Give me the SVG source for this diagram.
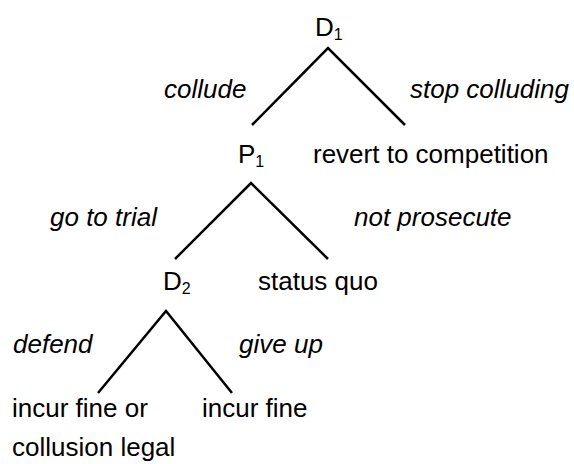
<svg xmlns="http://www.w3.org/2000/svg" width="574" height="464" viewBox="0 0 574 464">
<style>
  text { font-family: "Liberation Sans", Arial, sans-serif; font-size: 26px; fill: #000; }
  .lab { font-style: italic; }
  .sub { font-size: 16px; }
  .edge { stroke: #000; stroke-width: 2.5; fill: none; stroke-linecap: butt; }
</style>
<rect width="574" height="464" fill="#fff"/>
<g id="connectors">
  <polyline class="edge" points="252,125 328,48 405,125"/>
  <polyline class="edge" points="175,259 251,183 328,259"/>
  <polyline class="edge" points="98,393 166,311 232,393"/>
</g>
<g id="labels">
  <text class="lab" x="164" y="98">collude</text>
  <text class="lab" x="410" y="98">stop colluding</text>
  <text class="lab" x="50" y="226">go to trial</text>
  <text class="lab" x="354" y="226">not prosecute</text>
  <text class="lab" x="13" y="353">defend</text>
  <text class="lab" x="239" y="353">give up</text>
</g>
<g id="D1"><text x="315" y="36">D<tspan class="sub" dy="4">1</tspan></text></g>
<g id="P1"><text x="238" y="163">P<tspan class="sub" dy="4">1</tspan></text></g>
<g id="revert"><text x="313" y="163">revert to competition</text></g>
<g id="D2"><text x="163" y="290">D<tspan class="sub" dy="4">2</tspan></text></g>
<g id="statusquo"><text x="258" y="290">status quo</text></g>
<g id="incurfineor"><text x="12" y="417">incur fine or</text><text x="12" y="456">collusion legal</text></g>
<g id="incurfine"><text x="202" y="417">incur fine</text></g>
</svg>
